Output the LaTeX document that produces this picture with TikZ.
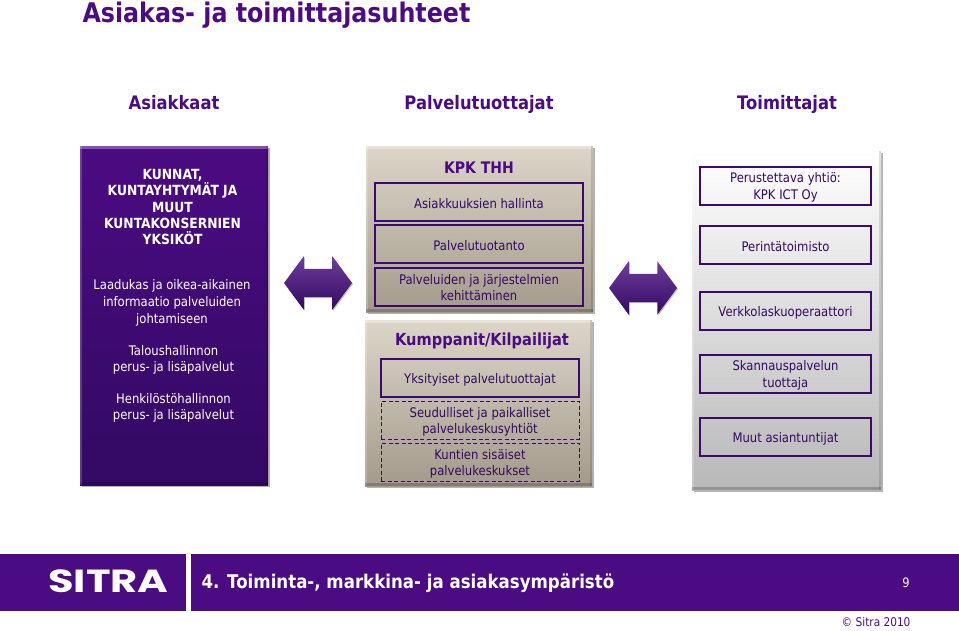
\documentclass[tikz,border=0pt]{standalone}
\usepackage{fontspec}
\setmainfont[FakeStretch=0.88]{DejaVu Sans}
\newfontfamily\logofont[FakeStretch=1.3]{Poppins}
\usetikzlibrary{arrows.meta,positioning,shadows,shapes.arrows}
\definecolor{sitrapurple}{HTML}{4B0B82}
\definecolor{sitradark}{HTML}{320A63}
\definecolor{sandtop}{HTML}{DDD6C8}
\definecolor{sandbottom}{HTML}{A39A8B}
\begin{document}
\begin{tikzpicture}[
  x=1pt, y=-1pt,
  node distance=4pt and 4pt,
  panel/.style={draw=none, anchor=north west, general shadow={shadow xshift=1.5pt, shadow yshift=-2pt, fill=black, opacity=0.3},
    path picture={
      \fill[white, opacity=0.3] (path picture bounding box.north west) rectangle ([yshift=-3pt]path picture bounding box.north east);
      \fill[white, opacity=0.2] (path picture bounding box.north west) rectangle ([xshift=2pt]path picture bounding box.south west);
      \fill[black, opacity=0.2] (path picture bounding box.south west) rectangle ([yshift=3pt]path picture bounding box.south east);
      \fill[black, opacity=0.12] (path picture bounding box.north east) rectangle ([xshift=-2pt]path picture bounding box.south east);
    }},
  purplepanel/.style={panel, top color=sitrapurple, bottom color=sitradark, minimum width=188pt, minimum height=339pt},
  sandpanel/.style={panel, top color=sandtop, bottom color=sandbottom, minimum width=227pt, minimum height=166pt},
  greypanel/.style={panel, top color=white, middle color=white!94!black, bottom color=black!28, minimum width=189pt, minimum height=339pt},
  box/.style={draw=sitradark!70!sitrapurple, line width=1.2pt, outer sep=0pt, align=center, text=sitradark, font=\fontsize{13.2}{16}\selectfont, minimum height=38pt, inner sep=0pt},
  oneline/.style={execute at begin node={\rule{0pt}{13pt}}},
  twolines/.style={text height=30pt, text depth=3pt},
  midbox/.style={box, minimum width=208pt},
  lowbox/.style={box, minimum width=198pt},
  lowdash/.style={lowbox, line width=1pt, dash pattern=on 4pt off 2.5pt, twolines},
  sidebox/.style={box, minimum width=171pt, font=\fontsize{13.2}{16.8}\selectfont},
  heading/.style={anchor=base, text=sitrapurple, font=\fontsize{18.6}{20}\selectfont\bfseries},
  whitetext/.style={text=white, align=center, font=\fontsize{13.2}{17}\selectfont},
  twoway/.style={double arrow, double arrow tip angle=107, double arrow head extend=12.5pt, minimum height=68pt, inner xsep=0pt, inner ysep=14pt,
    top color=sitrapurple!80!white, bottom color=sitradark, general shadow={shadow xshift=1pt, shadow yshift=-1pt, fill=black, opacity=0.25}}
]
  \useasboundingbox (0,0) rectangle (959,630);
  \node[anchor=base west, text=sitrapurple, font=\fontsize{27}{30}\selectfont\bfseries] (title) at (79,22) {Asiakas- ja toimittajasuhteet};
  \node[heading] (asiakkaat) at (174,109) {Asiakkaat};
  \node[heading] (tuottajat) at (479,109) {Palvelutuottajat};
  \node[heading] (toimittajat) at (787,109) {Toimittajat};

  % left column
  \node[purplepanel] (asiakas) at (80,146) {};
  \node[whitetext, font=\fontsize{14}{16.3}\selectfont\bfseries] (kunnat) at (172.5,207) {KUNNAT,\\KUNTAYHTYMÄT JA\\MUUT\\KUNTAKONSERNIEN\\YKSIKÖT};
  \node[whitetext] (laadukas) at (172,303) {Laadukas ja oikea-aikainen\\informaatio palveluiden\\johtamiseen};
  \node[whitetext, font=\fontsize{13.2}{16.3}\selectfont] (talous) at (173.5,360) {Taloushallinnon\\perus- ja lisäpalvelut};
  \node[whitetext, font=\fontsize{13.2}{16.3}\selectfont] (henkilo) at (173.5,408) {Henkilöstöhallinnon\\perus- ja lisäpalvelut};

  % middle column
  \node[sandpanel] (kpk) at (366,146) {};
  \node[text=sitrapurple, font=\fontsize{15.9}{18}\selectfont\bfseries] (kpkthh) at (479,168) {KPK THH};
  \node[midbox, oneline] (hallinta) at (479,202) {Asiakkuuksien hallinta};
  \node[midbox, oneline, below=of hallinta] (tuotanto) {Palvelutuotanto};
  \node[midbox, twolines, below=5pt of tuotanto] (kehitys) {Palveluiden ja järjestelmien\\kehittäminen};
  \node[sandpanel] (kumppanit) at (365,320) {};
  \node[text=sitrapurple, font=\fontsize{16.6}{18}\selectfont\bfseries] (kilpailijat) at (482,341) {Kumppanit/Kilpailijat};
  \node[lowbox, oneline] (yksityiset) at (480,378) {Yksityiset palvelutuottajat};
  \node[lowdash, below=of yksityiset] (seudulliset) {Seudulliset ja paikalliset\\palvelukeskusyhtiöt};
  \node[lowdash, below=of seudulliset] (kuntien) {Kuntien sisäiset\\palvelukeskukset};

  % right column
  \node[greypanel] (toimittaja) at (692,151) {};
  \node[sidebox, twolines] (ict) at (785.5,186) {Perustettava yhtiö:\\KPK ICT Oy};
  \node[sidebox, oneline] (perinta) at (785.5,245) {Perintätoimisto};
  \node[sidebox, oneline] (verkko) at (785.5,311) {Verkkolaskuoperaattori};
  \node[sidebox, twolines] (skannaus) at (785.5,374) {Skannauspalvelun\\tuottaja};
  \node[sidebox, oneline] (muut) at (785.5,437) {Muut asiantuntijat};

  \node[twoway] (nuolivasen) at (318,283) {};
  \node[twoway] (nuolioikea) at (643,288) {};

  % footer
  \fill[sitrapurple] (0,554) rectangle (186,611);
  \fill[sitrapurple] (191,554) rectangle (959,611);
  \node[text=white, font=\fontsize{32}{32}\logofont\bfseries\selectfont] (sitra) at (108.5,581) {SITRA};
  \node[anchor=west, text=white, font=\fontsize{18.9}{22}\selectfont\bfseries] (otsikko) at (198,583) {4. Toiminta-, markkina- ja asiakasympäristö};
  \node[text=white, font=\fontsize{13}{15}\selectfont] (sivu) at (906,583) {9};
  \node[anchor=east, text=sitrapurple, font=\fontsize{12}{14}\selectfont] (copy) at (914,622) {© Sitra 2010};
\end{tikzpicture}
\end{document}
